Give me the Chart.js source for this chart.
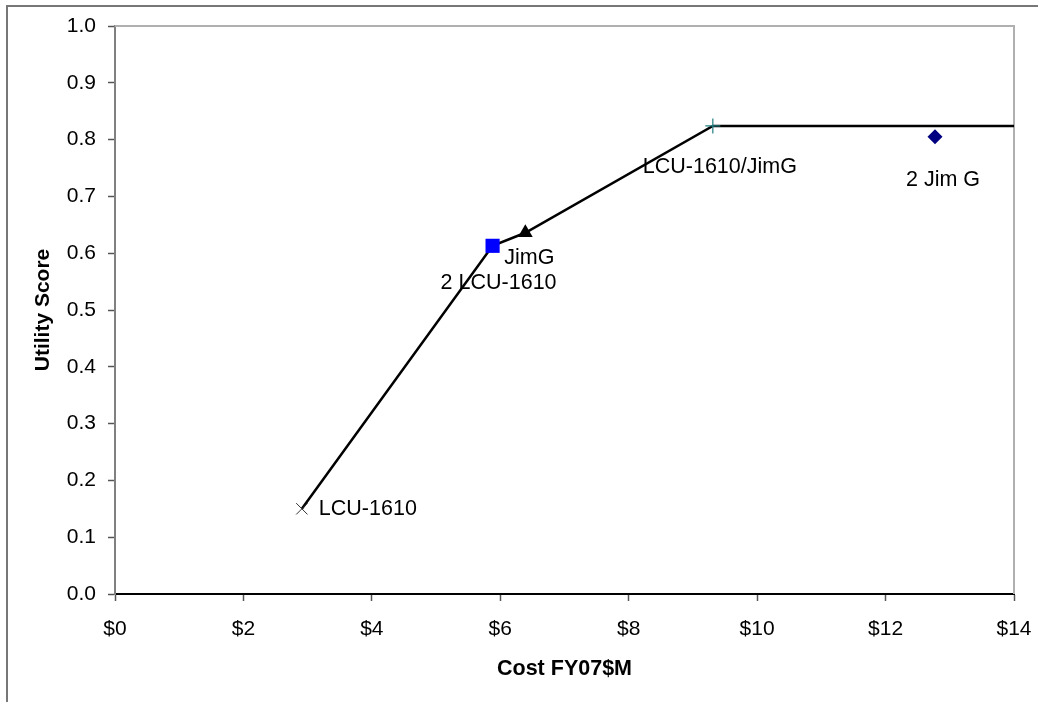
<!DOCTYPE html>
<html>
<head>
<meta charset="utf-8">
<script src="https://cdn.jsdelivr.net/npm/chart.js@4.4.1/dist/chart.umd.min.js"></script>
<style>
  html, body { margin: 0; padding: 0; background: #fff; overflow: hidden; }
  #wrap { position: relative; width: 1038px; height: 702px; }
  #frame { position: absolute; left: 6px; top: 5px; width: 2000px; height: 2000px;
           border-top: 2px solid #777; border-left: 2px solid #777; pointer-events: none; }
  canvas { position: absolute; left: 0; top: 0; }
</style>
</head>
<body>
<div id="wrap">
  <canvas id="chart" width="1038" height="702"></canvas>
  <div id="frame"></div>
</div>
<script>
// 效用-成本前沿图

// 前沿线
const frontierCost = [2.91, 5.88, 6.39, 9.31, 14];
const frontierUtility = [0.15, 0.613, 0.636, 0.824, 0.824];

// 各方案
const altNames = ['LCU-1610', '2 LCU-1610', 'JimG', 'LCU-1610/JimG', '2 Jim G'];
const altCost = [2.91, 5.88, 6.39, 9.31, 12.77];
const altUtility = [0.15, 0.613, 0.636, 0.824, 0.805];

// 坐标轴
const xTitle = 'Cost FY07$M';
const yTitle = 'Utility Score';

// 标记样式（与数据分开）
const markerStyles = [
  { pointStyle: 'crossRot', radius: 8, color: '#333', border: 1 },
  { pointStyle: 'rect', radius: 10, color: '#0000ff', border: 0 },
  { pointStyle: 'triangle', radius: 8.5, color: '#000', border: 0 },
  { pointStyle: 'cross', radius: 7.5, color: '#1f7f80', border: 1.2 },
  { pointStyle: 'rectRot', radius: 7.5, color: '#000080', border: 0 },
];
// 标签相对标记的偏移 [dx, dy, align]
const labelPlacement = [
  [17, 0, 'left'],
  [6, 37, 'center'],
  [4, 25, 'center'],
  [7, 41, 'center'],
  [8, 43, 'center'],
];

const FONT = '"Liberation Sans", Arial, sans-serif';
Chart.defaults.font.family = FONT;
Chart.defaults.font.size = 21;
Chart.defaults.color = '#000';

const frameAndLabels = {
  id: 'frameAndLabels',
  beforeDatasetsDraw(chart) {
    const { ctx, chartArea: a } = chart;
    ctx.save();
    ctx.strokeStyle = '#b0b0b0';
    ctx.lineWidth = 2;
    ctx.beginPath();
    ctx.moveTo(a.left, a.top);
    ctx.lineTo(a.right, a.top);
    ctx.lineTo(a.right, a.bottom);
    ctx.stroke();
    ctx.restore();
  },
  afterDatasetsDraw(chart) {
    const { ctx } = chart;
    ctx.save();
    ctx.font = '21.5px ' + FONT;
    ctx.fillStyle = '#000';
    ctx.textBaseline = 'middle';
    altNames.forEach((name, i) => {
      const meta = chart.getDatasetMeta(i + 1);
      const pt = meta.data[0];
      const [dx, dy, align] = labelPlacement[i];
      ctx.textAlign = align;
      ctx.fillText(name, pt.x + dx, pt.y + dy);
    });
    ctx.restore();
  }
};

const datasets = [{
  type: 'line',
  label: 'frontier',
  data: frontierCost.map((c, i) => ({ x: c, y: frontierUtility[i] })),
  borderColor: '#000',
  borderWidth: 2.5,
  pointRadius: 0,
  tension: 0,
  order: 2,
}];

altNames.forEach((name, i) => {
  const s = markerStyles[i];
  datasets.push({
    type: 'scatter',
    label: name,
    data: [{ x: altCost[i], y: altUtility[i] }],
    pointStyle: s.pointStyle,
    pointRadius: s.radius,
    backgroundColor: s.color,
    borderColor: s.color,
    pointBorderWidth: s.border,
    order: 1,
  });
});

new Chart(document.getElementById('chart'), {
  data: { datasets },
  options: {
    responsive: false,
    animation: false,
    layout: { padding: { top: 26, right: 24, left: 0, bottom: 0 } },
    plugins: { legend: { display: false }, tooltip: { enabled: false } },
    scales: {
      x: {
        type: 'linear',
        min: 0,
        max: 14,
        afterFit: s => { s.height = 108; s.paddingRight = 0; s.paddingLeft = 0; },
        border: { color: '#000', width: 2 },
        grid: { drawOnChartArea: false, drawTicks: true, tickLength: 7, tickColor: '#555', tickWidth: 1.5 },
        ticks: { stepSize: 2, padding: 16, color: '#000', callback: v => '$' + v },
        title: { display: true, text: xTitle, font: { size: 21.5, weight: 'bold' }, padding: { bottom: 20 } },
      },
      y: {
        type: 'linear',
        min: 0,
        max: 1,
        afterFit: s => { s.width = 115; s.paddingTop = 0; s.paddingBottom = 0; },
        border: { color: '#808080', width: 2 },
        grid: { drawOnChartArea: false, drawTicks: true, tickLength: 7, tickColor: '#555', tickWidth: 1.5 },
        ticks: { stepSize: 0.1, padding: 12, color: '#000', callback: v => v.toFixed(1) },
        title: { display: true, text: yTitle, font: { size: 21, weight: 'bold' }, padding: { top: 31 } },
      }
    }
  },
  plugins: [frameAndLabels]
});
</script>
</body>
</html>
